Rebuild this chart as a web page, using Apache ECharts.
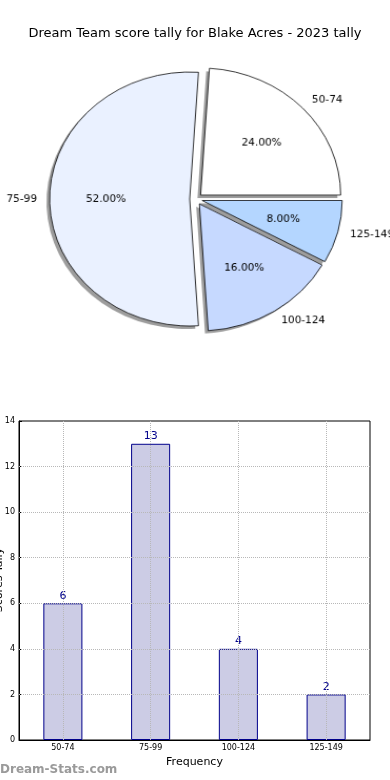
<!DOCTYPE html>
<html>
<head>
<meta charset="utf-8">
<script src="https://cdn.jsdelivr.net/npm/echarts@6/dist/echarts.min.js"></script>
<style>
html,body{margin:0;padding:0;background:#fff;overflow:hidden}
#wrap{position:relative;width:390px;height:780px;overflow:hidden}
#c{position:absolute;left:0;top:0;width:390px;height:780px}
#p{position:absolute;left:0;top:0;width:430px;height:400px;transform-origin:196px 199px;transform:scale(1.053,0.955)}
</style>
</head>
<body>
<div id="wrap"><div id="c"></div><div id="p"></div></div>
<script>
const titleText = 'Dream Team score tally for Blake Acres - 2023 tally';
const categories = ['50-74', '75-99', '100-124', '125-149'];
const tally = [6, 13, 4, 2];
const pieColors = ['#ffffff', '#eaf1ff', '#c6d9ff', '#b4d6ff'];
const yTicks = [2, 4, 6, 8, 10, 12];
const yAxisName = 'Scores Tally';
const xAxisName = 'Frequency';
const watermark = 'Dream-Stats.com';

const FONT = 'DejaVu Sans';
const total = tally.reduce((a, b) => a + b, 0);
const pieCenter = [196, 199];
const shadowCenter = [193, 202];
const R = 133;
const OFF = 6;

const mk = (extra) => categories.map((c, i) => Object.assign({ name: c, value: tally[i], selected: true }, extra ? extra(i) : {}));

const gridLines = [];
categories.forEach(c => gridLines.push({ xAxis: c }));
yTicks.forEach(v => gridLines.push({ yAxis: v }));

// ---- main chart: title, bar chart, watermark ----
const chart = echarts.init(document.getElementById('c'), null, { renderer: 'canvas' });
chart.setOption({
  animation: false,
  textStyle: { fontFamily: FONT },
  title: {
    text: titleText, left: 'center', top: 22,
    textStyle: { fontFamily: FONT, fontSize: 13, fontWeight: 'normal', color: '#000' }
  },
  graphic: [{
    type: 'text', left: 0, top: 764,
    style: { text: watermark, fill: '#9a9a9a', font: 'bold 12px "DejaVu Sans"' }
  }, {
    type: 'text', x: -1, y: 580, rotation: Math.PI / 2,
    style: { text: yAxisName, fill: '#000', font: '11px "DejaVu Sans"', align: 'center', verticalAlign: 'middle' }
  }],
  grid: {
    left: 19, right: 20, top: 421, bottom: 40, show: true,
    containLabel: false, outerBoundsMode: 'none',
    borderColor: '#000', borderWidth: 1, backgroundColor: 'transparent'
  },
  xAxis: {
    type: 'category', data: categories,
    axisLine: { lineStyle: { color: '#000' } },
    axisTick: { alignWithLabel: true, inside: true, length: 3, lineStyle: { color: '#000' } },
    axisLabel: { fontSize: 8, color: '#000', margin: 4 },
    splitLine: { show: false },
    name: xAxisName, nameLocation: 'middle', nameGap: 17,
    nameTextStyle: { fontSize: 11, color: '#000' }
  },
  yAxis: {
    type: 'value', min: 0, max: 14, interval: 2,
    axisLine: { show: true, lineStyle: { color: '#000' } },
    axisTick: { show: true, inside: true, length: 3, lineStyle: { color: '#000' } },
    axisLabel: { fontSize: 8, color: '#000', margin: 4 },
    splitLine: { show: false }
  },
  series: [{
    type: 'bar', data: tally, barWidth: '44.5%',
    itemStyle: { color: '#cccce5', borderColor: '#00008b', borderWidth: 1 },
    label: { show: true, position: 'top', fontSize: 11, color: '#00008b', distance: 2 },
    emphasis: { disabled: true },
    markLine: {
      silent: true, symbol: 'none', label: { show: false },
      lineStyle: { type: 'dotted', color: '#b8b8b8', width: 1 },
      data: gridLines
    }
  }]
});

// ---- pie chart (overlay, scaled to an ellipse like the original) ----
const pie = echarts.init(document.getElementById('p'), null, { renderer: 'canvas' });
const common = {
  type: 'pie', radius: [0, R], startAngle: 0, clockwise: false,
  selectedMode: 'multiple', selectedOffset: OFF, avoidLabelOverlap: false,
  emphasis: { disabled: true }, silent: true, animation: false
};
pie.setOption({
  animation: false,
  textStyle: { fontFamily: FONT },
  series: [
    Object.assign({}, common, {
      center: shadowCenter, z: 1,
      itemStyle: { color: 'rgba(60,60,60,0.5)', borderWidth: 0 },
      select: { itemStyle: { color: 'rgba(60,60,60,0.5)', borderWidth: 0 } },
      label: { show: false }, labelLine: { show: false },
      data: mk()
    }),
    Object.assign({}, common, {
      center: pieCenter, z: 2,
      itemStyle: { borderColor: '#000', borderWidth: 0.8 },
      select: { itemStyle: { borderColor: '#000', borderWidth: 0.8 } },
      label: { show: true, position: 'outside', fontSize: 10, color: '#000', formatter: '{b}', distanceToLabelLine: 0 },
      labelLine: { show: false, length: 12, length2: 0 },
      data: mk(i => ({ itemStyle: { color: pieColors[i] }, select: { itemStyle: { color: pieColors[i] } } }))
    }),
    Object.assign({}, common, {
      center: pieCenter, radius: [0, R * 1.15], z: 3,
      itemStyle: { color: 'rgba(0,0,0,0)', borderWidth: 0 },
      select: { itemStyle: { color: 'rgba(0,0,0,0)', borderWidth: 0 } },
      label: {
        show: true, position: 'inside', fontSize: 10, color: '#000',
        formatter: p => (p.value / total * 100).toFixed(2) + '%'
      },
      labelLine: { show: false },
      data: mk()
    })
  ]
});
</script>
</body>
</html>
